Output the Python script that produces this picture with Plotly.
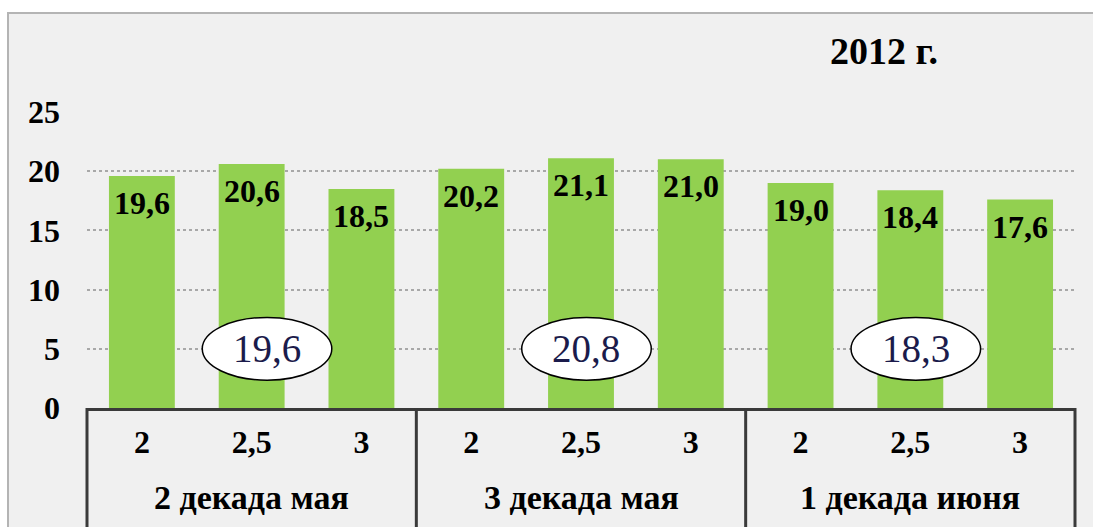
import plotly.graph_objects as go

# ---- data ----
groups = ["2 декада мая", "3 декада мая", "1 декада июня"]
sub_labels = ["2", "2,5", "3"]
values = [19.6, 20.6, 18.5, 20.2, 21.1, 21.0, 19.0, 18.4, 17.6]
group_means = [19.6, 20.8, 18.3]
title_text = "2012 г."
y_ticks = [0, 5, 10, 15, 20, 25]

# ---- styling / layout geometry (screen px) ----
ellipse_dx = [0.14, 0.05, 0.05]   # horizontal nudge of the mean ellipses
W, H = 1093, 527
PLOT_L, PLOT_R, PLOT_T, PLOT_B = 87, 1075, 112, 408
ML, MT = PLOT_L, PLOT_T
MR, MB = W - PLOT_R, H - PLOT_B
PW = PLOT_R - PLOT_L
PH = PLOT_B - PLOT_T

n_sub = len(sub_labels)
n_cat = len(values)
xs = list(range(n_cat))
tick_text = [sub_labels[i % n_sub] for i in xs]

FONT = "Liberation Serif"
GREEN = "#92d050"
DARK = "#3a3a3a"


def fmt(v):
    return f"{v:.1f}".replace(".", ",")


def py(screen_y):
    return (PLOT_B - screen_y) / PH


def px(screen_x):
    return (screen_x - PLOT_L) / PW


fig = go.Figure()
fig.add_bar(
    x=xs, y=values, width=0.6,
    marker=dict(color=GREEN, line=dict(width=0)),
    hoverinfo="skip", showlegend=False,
)

bold = dict(family=FONT, color="black", weight="bold")

annotations = []
for x, v in zip(xs, values):
    annotations.append(dict(
        x=x, y=v, xref="x", yref="y", text=fmt(v), showarrow=False,
        yanchor="top", yshift=-7,
        font=dict(size=32, **bold),
    ))

for g, name in enumerate(groups):
    annotations.append(dict(
        x=g * n_sub + (n_sub - 1) / 2, y=py(498),
        xref="x", yref="paper", text=name, showarrow=False,
        yanchor="middle",
        font=dict(size=34, **bold),
    ))

shapes = []
shapes.append(dict(
    type="rect", xref="paper", yref="paper", layer="below",
    x0=px(8), x1=px(W + 40), y0=py(H + 40), y1=py(13),
    fillcolor="#f0f0f0", line=dict(color="#b4b4b4", width=2),
))

for k in range(len(groups) + 1):
    xp = k * n_sub / n_cat
    shapes.append(dict(
        type="line", xref="paper", yref="paper",
        x0=xp, x1=xp, y0=0, y1=py(H + 40),
        line=dict(color=DARK, width=3),
    ))

ew, eh = 0.59, 2.65
for g, m in enumerate(group_means):
    cx = g * n_sub + (n_sub - 1) / 2 + ellipse_dx[g]
    cy = 5
    shapes.append(dict(
        type="circle", xref="x", yref="y",
        x0=cx - ew, x1=cx + ew, y0=cy - eh, y1=cy + eh,
        fillcolor="white", line=dict(color="black", width=1.5),
    ))
    annotations.append(dict(
        x=cx, y=cy, xref="x", yref="y", text=fmt(m), showarrow=False,
        font=dict(family=FONT, size=39, color="#1b1b4b"),
    ))

fig.update_layout(
    width=W, height=H,
    margin=dict(l=ML, r=MR, t=MT, b=MB),
    paper_bgcolor="white", plot_bgcolor="rgba(0,0,0,0)",
    title=dict(
        text=title_text, x=884 / W, xanchor="center",
        y=1 - 51 / H, yanchor="middle",
        font=dict(size=38, **bold),
    ),
    xaxis=dict(
        range=[-0.5, n_cat - 0.5], tickvals=xs, ticktext=tick_text,
        showgrid=False, zeroline=False, showline=True, linecolor=DARK, linewidth=3,
        ticks="", ticklabelstandoff=4,
        tickfont=dict(size=32, **bold),
        fixedrange=True,
    ),
    yaxis=dict(
        range=[0, 25], tickvals=y_ticks,
        showgrid=True, gridcolor="#a8a8a8", griddash="dot", gridwidth=1.5,
        zeroline=False, showline=False, ticks="", ticklabelstandoff=26,
        tickfont=dict(size=32, **bold),
        fixedrange=True,
    ),
    shapes=shapes, annotations=annotations,
    bargap=0.4, showlegend=False,
)

fig.write_html(
    "out.html",
    config={"displayModeBar": False},
    post_script="document.body.style.margin='0';document.body.style.overflow='hidden';",
)
